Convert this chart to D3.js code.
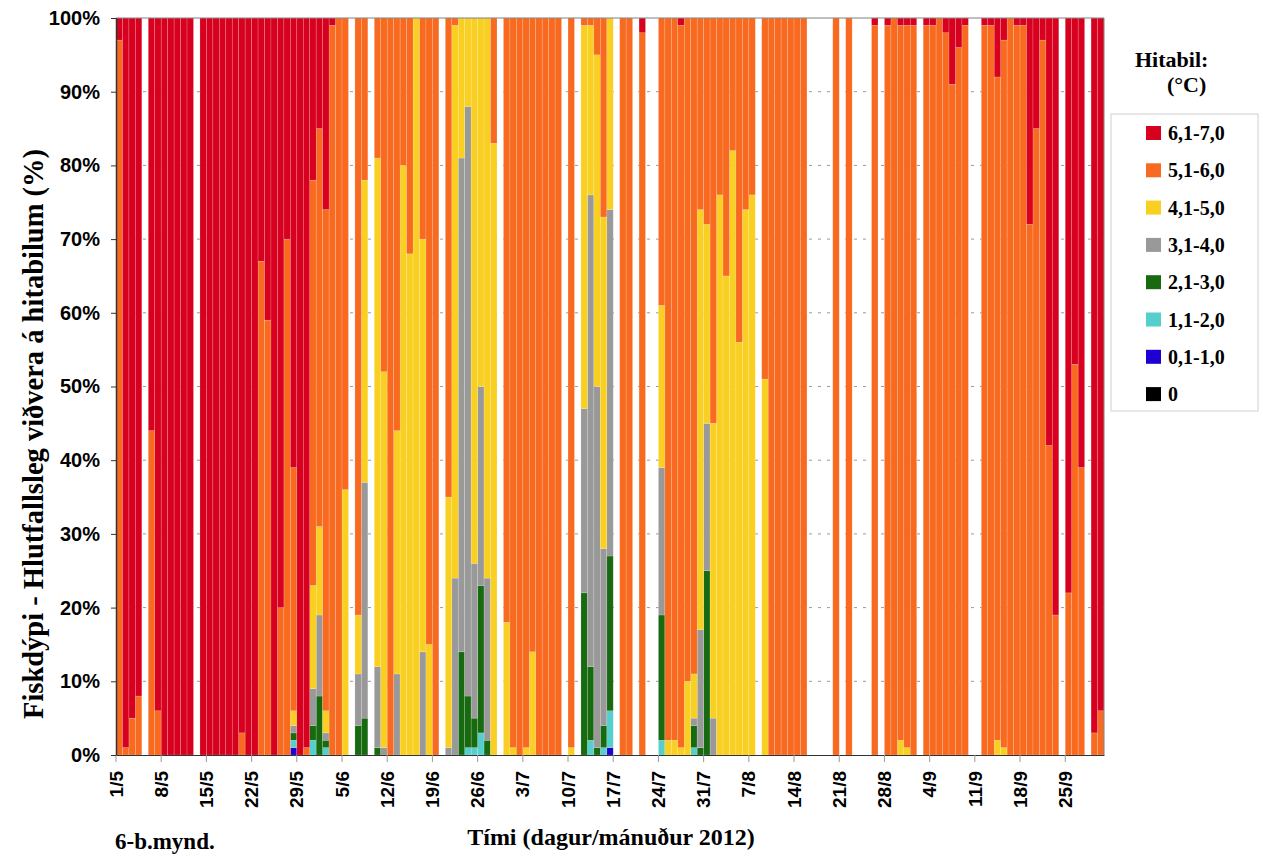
<!DOCTYPE html>
<html>
<head>
<meta charset="utf-8">
<script src="https://cdn.jsdelivr.net/npm/d3@7"></script>
<style>
  body { margin: 0; background: #fff; }
  svg { display: block; font-family: "Liberation Serif", "Times New Roman", serif; font-weight: bold; }
</style>
</head>
<body>
<div id="chart"></div>
<script>
const _ = null; // no measurement that day

// share of the day (%) in each temperature band, 1/5 - 30/9 2012, one line per month
const t0 = [
  0,0,0,0,_,0,0,0,0,0, 0,0,_,0,0,0,0,0,0,0, 0,0,0,0,0,0,0,0,0,0, 0,
  0,0,0,0,0,_,0,0,_,0, 0,0,0,0,0,0,0,0,0,_, 0,0,0,0,0,0,0,0,_,0,
  0,0,0,0,0,0,0,0,_,0, _,0,0,0,0,0,_,0,0,_, 0,_,_,0,0,0,0,0,0,0, 0,
  0,0,0,0,0,0,0,_,0,0, 0,0,0,0,0,_,_,_,_,0, _,0,_,_,_,0,_,0,0,0, 0,
  0,_,0,0,0,0,0,0,0,_, _,0,0,0,0,0,0,0,0,0, 0,0,0,_,0,0,0,_,0,0
];
const t1 = [
  0,0,0,0,_,0,0,0,0,0, 0,0,_,0,0,0,0,0,0,0, 0,0,0,0,0,0,0,1,0,0, 0,
  0,0,0,0,0,_,0,0,_,0, 0,0,0,0,0,0,0,0,0,_, 0,0,0,0,0,0,0,0,_,0,
  0,0,0,0,0,0,0,0,_,0, _,0,0,0,0,1,_,0,0,_, 0,_,_,0,0,0,0,0,0,0, 0,
  0,0,0,0,0,0,0,_,0,0, 0,0,0,0,0,_,_,_,_,0, _,0,_,_,_,0,_,0,0,0, 0,
  0,_,0,0,0,0,0,0,0,_, _,0,0,0,0,0,0,0,0,0, 0,0,0,_,0,0,0,_,0,0
];
const t2 = [
  0,0,0,0,_,0,0,0,0,0, 0,0,_,0,0,0,0,0,0,0, 0,0,0,0,0,0,0,1,0,0, 2,
  0,1,0,0,0,_,0,0,_,0, 0,0,0,0,0,0,0,0,0,_, 0,0,0,1,1,3,0,0,_,0,
  0,0,0,0,0,0,0,0,_,0, _,0,2,0,1,5,_,0,0,_, 0,_,_,2,0,0,0,0,1,0, 0,
  0,0,0,0,0,0,0,_,0,0, 0,0,0,0,0,_,_,_,_,0, _,0,_,_,_,0,_,0,0,0, 0,
  0,_,0,0,0,0,0,0,0,_, _,0,0,0,0,0,0,0,0,0, 0,0,0,_,0,0,0,_,0,0
];
const t3 = [
  0,0,0,0,_,0,0,0,0,0, 0,0,_,0,0,0,0,0,0,0, 0,0,0,0,0,0,0,1,0,0, 2,
  8,1,0,0,0,_,4,5,_,1, 0,0,0,0,0,0,0,0,0,_, 0,0,14,7,4,20,2,0,_,0,
  0,0,0,0,0,0,0,0,_,0, _,22,10,1,3,21,_,0,0,_, 0,_,_,17,0,0,0,0,3,1, 25,
  0,0,0,0,0,0,0,_,0,0, 0,0,0,0,0,_,_,_,_,0, _,0,_,_,_,0,_,0,0,0, 0,
  0,_,0,0,0,0,0,0,0,_, _,0,0,0,0,0,0,0,0,0, 0,0,0,_,0,0,0,_,0,0
];
const t4 = [
  0,0,0,0,_,0,0,0,0,0, 0,0,_,0,0,0,0,0,0,0, 0,0,0,0,0,0,0,1,0,0, 5,
  11,1,0,0,0,_,7,32,_,11, 1,0,11,0,0,0,14,0,0,_, 1,24,67,80,21,27,22,0,_,0,
  0,0,0,0,0,0,0,0,_,0, _,25,64,49,24,47,_,0,0,_, 0,_,_,20,0,0,0,0,1,16, 20,
  5,0,0,0,0,0,0,_,0,0, 0,0,0,0,0,_,_,_,_,0, _,0,_,_,_,0,_,0,0,0, 0,
  0,_,0,0,0,0,0,0,0,_, _,0,0,0,0,0,0,0,0,0, 0,0,0,_,0,0,0,_,0,0
];
const t5 = [
  0,0,0,0,_,0,0,0,0,0, 0,0,_,0,0,0,0,0,0,0, 0,0,0,0,0,0,0,2,0,0, 14,
  12,3,0,0,36,_,8,41,_,69, 51,0,33,80,68,100,56,15,0,_, 34,75,19,12,74,50,76,83,_,18,
  1,0,1,14,0,0,0,0,_,1, _,52,23,45,45,26,_,0,0,_, 0,_,_,22,2,2,1,10,6,57, 27,
  40,76,65,82,56,74,76,_,51,0, 0,0,0,0,0,_,_,_,_,0, _,0,_,_,_,0,_,0,0,2, 1,
  0,_,0,0,0,0,0,0,0,_, _,0,0,2,1,0,0,0,0,0, 0,0,0,_,0,0,0,_,0,0
];
const t6 = [
  97,1,5,8,_,44,6,0,0,0, 0,0,_,0,0,0,0,0,0,3, 0,0,67,59,0,20,70,33,0,1, 55,
  54,68,99,100,64,_,81,22,_,19, 48,100,56,20,32,0,30,85,100,_, 65,1,0,0,0,0,0,17,_,82,
  99,100,99,86,100,100,100,100,_,99, _,1,1,5,27,0,_,100,100,_, 98,_,_,39,98,98,98,90,89,26, 28,
  55,24,35,18,44,26,24,_,49,100, 100,100,100,100,100,_,_,_,_,100, _,100,_,_,_,99,_,99,100,97, 98,
  99,_,99,99,100,98,91,96,99,_, _,99,99,90,96,100,99,99,72,85, 97,42,19,_,22,53,39,_,3,6
];
const t7 = [
  3,99,95,92,_,56,94,100,100,100, 100,100,_,100,100,100,100,100,100,97, 100,100,33,41,100,80,30,61,100,99, 22,
  15,26,1,0,0,_,0,0,_,0, 0,0,0,0,0,0,0,0,0,_, 0,0,0,0,0,0,0,0,_,0,
  0,0,0,0,0,0,0,0,_,0, _,0,0,0,0,0,_,0,0,_, 2,_,_,0,0,0,1,0,0,0, 0,
  0,0,0,0,0,0,0,_,0,0, 0,0,0,0,0,_,_,_,_,0, _,0,_,_,_,1,_,1,0,1, 1,
  1,_,1,1,0,2,9,4,1,_, _,1,1,8,3,0,1,1,28,15, 3,58,81,_,78,47,61,_,97,94
];

const bands = ["0", "0,1-1,0", "1,1-2,0", "2,1-3,0", "3,1-4,0", "4,1-5,0", "5,1-6,0", "6,1-7,0"];
const bandValues = [t0, t1, t2, t3, t4, t5, t6, t7];
const colors = ["#000000", "#1f00d2", "#55cfcc", "#176a10", "#999999", "#f9cf22", "#f76a1f", "#d7001e"];

const days = d3.timeDay.range(new Date(2012, 4, 1), new Date(2012, 9, 1)).map(d3.timeFormat("%-d/%-m"));
const tickLabels = ["1/5", "8/5", "15/5", "22/5", "29/5", "5/6", "12/6", "19/6", "26/6", "3/7", "10/7",
  "17/7", "24/7", "31/7", "7/8", "14/8", "21/8", "28/8", "4/9", "11/9", "18/9", "25/9"];
const yTicks = d3.range(0, 101, 10);

const rows = days.map((day, i) => {
  const row = { day: day, missing: t7[i] === null };
  bands.forEach((b, k) => { row[b] = bandValues[k][i] || 0; });
  return row;
});

const W = 1263, H = 856;
const margin = { top: 18, left: 116, right: 159, bottom: 101 };
const width = W - margin.left - margin.right;
const height = H - margin.top - margin.bottom;

const svg = d3.select("#chart").append("svg").attr("width", W).attr("height", H);
const chart = svg.append("g").attr("transform", `translate(${margin.left},${margin.top})`);

const x = d3.scaleBand().domain(days).range([0, width]);
const y = d3.scaleLinear().domain([0, 100]).range([height, 0]);

// dashed gridlines, only seen where a day is missing
chart.append("g")
  .selectAll("line")
  .data(yTicks.filter((d) => d > 0 && d < 100))
  .join("line")
  .attr("x1", 0).attr("x2", width)
  .attr("y1", (d) => y(d)).attr("y2", (d) => y(d))
  .attr("stroke", "#999").attr("stroke-dasharray", "3,6");

const series = d3.stack().keys(bands)(rows);

chart.append("g")
  .selectAll("g")
  .data(series)
  .join("g")
  .attr("fill", (d, k) => colors[k])
  .selectAll("rect")
  .data((s) => s.filter((d) => !d.data.missing && d[1] > d[0]))
  .join("rect")
  .attr("x", (d) => x(d.data.day))
  .attr("width", x.bandwidth())
  .attr("y", (d) => y(d[1]))
  .attr("height", (d) => y(d[0]) - y(d[1]))
  .attr("stroke", "rgba(255,255,255,0.28)")
  .attr("stroke-width", 0.6);

// frame
chart.append("path")
  .attr("d", `M0,0H${width}V${height}`)
  .attr("fill", "none").attr("stroke", "#808080");

const xAxis = chart.append("g")
  .attr("transform", `translate(0,${height})`)
  .call(d3.axisBottom(x).tickValues(tickLabels).tickSize(7).tickSizeOuter(0));
xAxis.selectAll(".tick").attr("transform", (d) => `translate(${x(d)},0)`);
xAxis.select(".domain").attr("stroke", "#333");
xAxis.selectAll(".tick line").attr("stroke", "#999");
xAxis.selectAll(".tick text")
  .attr("transform", "rotate(-90)")
  .attr("x", -16).attr("y", 0).attr("dy", "0.35em")
  .attr("text-anchor", "end")
  .attr("font-size", 19).attr("font-family", null).attr("fill", "#000");

const yAxis = chart.append("g")
  .call(d3.axisLeft(y).tickValues(yTicks).tickFormat((d) => d + "%").tickSize(5).tickPadding(11).tickSizeOuter(0));
yAxis.select(".domain").attr("stroke", "#333").attr("stroke-width", 1.5);
yAxis.selectAll(".tick line").attr("stroke", "#333");
yAxis.selectAll(".tick text").attr("font-size", 20).attr("font-family", null).attr("fill", "#000");

// titles
svg.append("text")
  .attr("transform", "translate(43,434) rotate(-90)")
  .attr("text-anchor", "middle").attr("font-size", 28.5)
  .text("Fiskdýpi - Hlutfallsleg viðvera á hitabilum (%)");

svg.append("text")
  .attr("x", 611).attr("y", 845)
  .attr("text-anchor", "middle").attr("font-size", 24)
  .text("Tími (dagur/mánuður 2012)");

svg.append("text")
  .attr("x", 115).attr("y", 849)
  .attr("font-size", 23)
  .text("6-b.mynd.");

// legend
const legend = svg.append("g");
legend.append("text").attr("x", 1135).attr("y", 67).attr("font-size", 22).text("Hitabil:");
legend.append("text").attr("x", 1167).attr("y", 92).attr("font-size", 22).text("(°C)");
legend.append("rect")
  .attr("x", 1111).attr("y", 114).attr("width", 147).attr("height", 297)
  .attr("fill", "#fff").attr("stroke", "#d0d0d0");

const items = legend.selectAll("g.item")
  .data(bands.map((b, k) => ({ name: b, color: colors[k] })).reverse())
  .join("g")
  .attr("class", "item")
  .attr("transform", (d, i) => `translate(1146,${133 + i * 37.3})`);
items.append("rect").attr("x", 0).attr("y", -7).attr("width", 15).attr("height", 14).attr("fill", (d) => d.color);
items.append("text").attr("x", 22).attr("y", 7).attr("font-size", 20).text((d) => d.name);
</script>
</body>
</html>
